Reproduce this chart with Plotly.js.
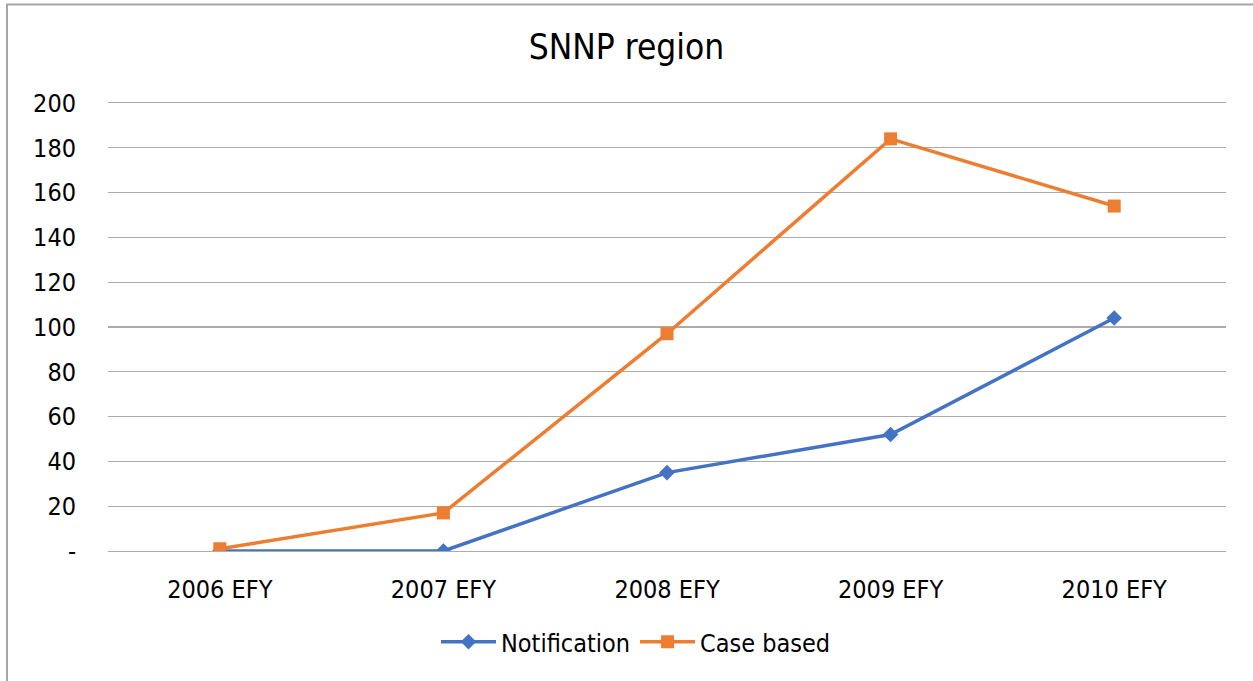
<!DOCTYPE html>
<html>
<head>
<meta charset="utf-8">
<script src="https://cdn.plot.ly/plotly-3.0.1.min.js"></script>
<style>
html,body{margin:0;padding:0;background:#fff;}
#chart{width:1253px;height:681px;}
</style>
</head>
<body>
<div id="chart"></div>
<script>
const categories = ["2006 EFY", "2007 EFY", "2008 EFY", "2009 EFY", "2010 EFY"];
const notification = [0, 0, 35, 52, 104];
const caseBased = [1, 17, 97, 184, 154];
const yTickVals = [0, 20, 40, 60, 80, 100, 120, 140, 160, 180, 200];
const yTickText = ["-", "20", "40", "60", "80", "100", "120", "140", "160", "180", "200"];

const FONT = "'DejaVu Sans Condensed', 'DejaVu Sans', sans-serif";

const traces = [
  {
    x: categories, y: notification, name: "Notification",
    type: "scatter", mode: "lines+markers",
    line: {color: "#4472C4", width: 3.5},
    marker: {symbol: "diamond", size: 12, color: "#4472C4"}
  },
  {
    x: categories, y: caseBased, name: "Case based",
    type: "scatter", mode: "lines+markers",
    line: {color: "#ED7D31", width: 3.5},
    marker: {symbol: "square", size: 13, color: "#ED7D31"}
  }
];

const layout = {
  width: 1253, height: 681,
  margin: {l: 108, r: 27, t: 103, b: 130},
  paper_bgcolor: "#ffffff", plot_bgcolor: "#ffffff",
  font: {family: FONT, size: 25, color: "#000000"},
  title: {
    text: "SNNP region",
    font: {family: FONT, size: 35, color: "#000000"},
    xref: "container", x: 0.5, xanchor: "center",
    yref: "container", y: 1 - 47/681, yanchor: "middle"
  },
  xaxis: {
    type: "category",
    range: [-0.5, categories.length - 0.5],
    showgrid: false, zeroline: false,
    showline: true, mirror: true, linecolor: "#ababab", linewidth: 1.3,
    ticks: "outside", ticklen: 16, tickcolor: "rgba(0,0,0,0)",
    tickfont: {family: FONT, size: 25, color: "#000"},
    fixedrange: true
  },
  yaxis: {
    range: [0, 200],
    tickvals: yTickVals, ticktext: yTickText,
    showgrid: true, gridcolor: "#ababab", gridwidth: 1.3,
    zeroline: false, showline: false,
    ticks: "outside", ticklen: 26, tickcolor: "rgba(0,0,0,0)",
    tickfont: {family: FONT, size: 25, color: "#000"},
    fixedrange: true
  },
  showlegend: true,
  legend: {
    orientation: "h",
    x: (636 - 108) / 1118, xanchor: "center",
    y: (551 - 642) / 448, yanchor: "middle",
    font: {family: FONT, size: 25, color: "#000"},
    itemwidth: 55,
    bgcolor: "rgba(0,0,0,0)"
  },
  shapes: [
    {
      type: "rect", xref: "paper", yref: "paper",
      x0: (7 - 108) / 1118, x1: 1.2,
      y0: -0.6, y1: 1 + (103 - 4.5) / 448,
      line: {color: "#a6a6a6", width: 2},
      fillcolor: "rgba(0,0,0,0)", layer: "below"
    }
  ]
};

Plotly.newPlot("chart", traces, layout, {displayModeBar: false, staticPlot: true});
</script>
</body>
</html>
